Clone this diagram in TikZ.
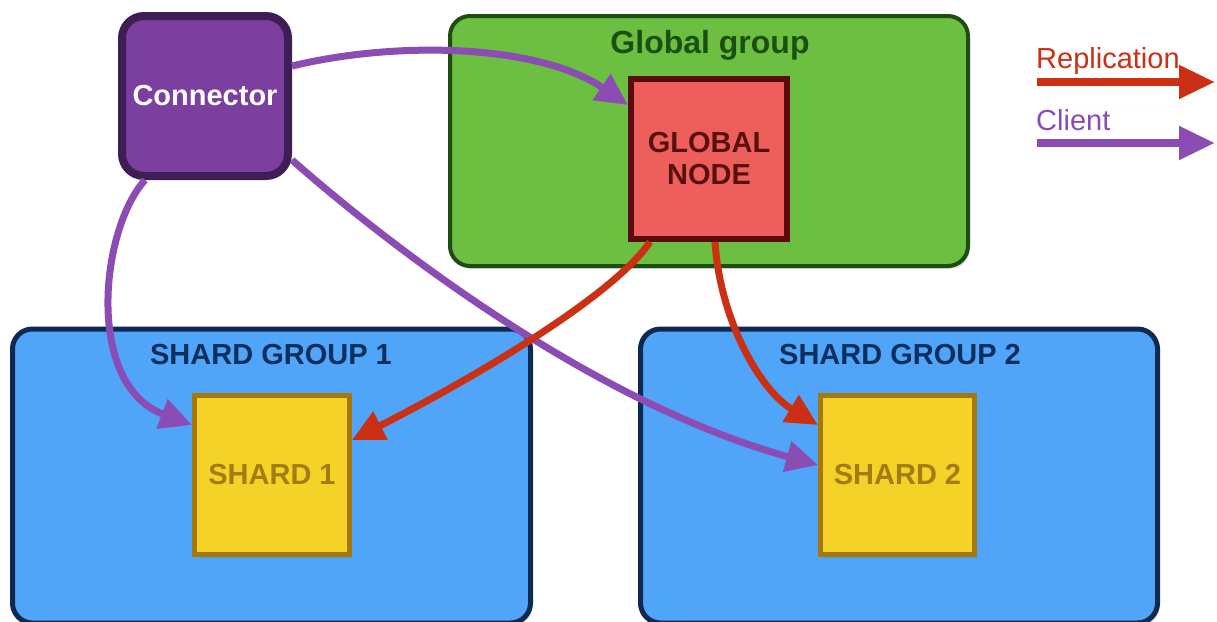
\documentclass[tikz,border=0pt]{standalone}
\usepackage{fontspec}
\setmainfont{Liberation Sans}
\usetikzlibrary{arrows.meta,shadows}
\definecolor{connfill}{HTML}{7B3F9F}
\definecolor{connline}{HTML}{3E1F55}
\definecolor{clientc}{HTML}{8B4CB3}
\definecolor{grpfill}{HTML}{6CBF40}
\definecolor{grpline}{HTML}{1E4D10}
\definecolor{grptext}{HTML}{1B5012}
\definecolor{gnfill}{HTML}{EC5F5B}
\definecolor{gnline}{HTML}{5B0B0B}
\definecolor{gntext}{HTML}{5B1010}
\definecolor{replc}{HTML}{CC3014}
\definecolor{shgfill}{HTML}{50A5F8}
\definecolor{shgline}{HTML}{0E2A52}
\definecolor{shgtext}{HTML}{0D2F5E}
\definecolor{shfill}{HTML}{F5D228}
\definecolor{shline}{HTML}{A5780F}
\definecolor{shtext}{HTML}{A27D12}
\tikzset{
  base/.style={font=\fontsize{29}{32}\selectfont\bfseries, align=center, inner sep=0pt},
  shade/.style={drop shadow={opacity=0.25, shadow xshift=2pt, shadow yshift=-3pt}},
  connbox/.style={base, shade, draw=connline, fill=connfill, text=white, line width=8pt, rounded corners=22pt},
  groupbox/.style={shade, draw=grpline, fill=grpfill, line width=4pt, rounded corners=20pt},
  gnodebox/.style={base, shade, draw=gnline, fill=gnfill, text=gntext, line width=6pt},
  shgroupbox/.style={shade, draw=shgline, fill=shgfill, line width=5pt, rounded corners=20pt},
  shardbox/.style={base, shade, draw=shline, fill=shfill, text=shtext, line width=5pt},
  title/.style={base},
  client/.style={draw=clientc, line width=7pt, -{Triangle[length=32pt,width=30pt]}},
  repl/.style={draw=replc, line width=7pt, -{Triangle[length=32pt,width=30pt]}},
  legarrow/.style={line width=8pt, -{Triangle[length=36pt,width=32pt]}},
  legtext/.style={font=\fontsize{29}{32}\selectfont, inner sep=0pt, anchor=base west}
}
\begin{document}
\begin{tikzpicture}[x=1pt,y=-1pt]
\useasboundingbox (0,0) rectangle (1217,621);
\fill[white] (0,0) rectangle (1217,621);

% global group with its node
\node[groupbox, minimum width=518pt, minimum height=250pt] (ggroup) at (709,141) {};
\node[title, text=grptext, font=\fontsize{32}{36}\selectfont\bfseries] (gtitle) at (710,45) {Global group};
\node[gnodebox, minimum width=156pt, minimum height=160pt] (gnode) at (709,159) {GLOBAL\\NODE};

% shard groups
\node[shgroupbox, minimum width=518pt, minimum height=294pt] (sg1) at (271.5,476) {};
\node[title, text=shgtext] (sg1t) at (271,355) {SHARD GROUP 1};
\node[shardbox, minimum width=155pt, minimum height=159pt] (s1) at (272,475) {SHARD 1};

\node[shgroupbox, minimum width=517pt, minimum height=294pt] (sg2) at (899,476) {};
\node[title, text=shgtext] (sg2t) at (900,355) {SHARD GROUP 2};
\node[shardbox, minimum width=154pt, minimum height=159pt] (s2) at (897.5,475) {SHARD 2};

% connector
\node[connbox, minimum width=166pt, minimum height=160pt] (conn) at (205,96) {Connector};

% client paths
\draw[client] ([yshift=30pt]conn.east) .. controls (400,40) and (540,45) .. ([yshift=54pt]gnode.west);
\draw[client] ([xshift=-60pt]conn.south) .. controls (100,230) and (85,385) .. ([yshift=50pt]s1.west);
\draw[client] ([yshift=-64pt]conn.east) .. controls (400,255) and (600,405) .. ([yshift=10pt]s2.west);

% replication paths
\draw[repl] ([xshift=-59pt]gnode.south) .. controls (610,300) and (460,385) .. ([yshift=35pt]s1.east);
\draw[repl] ([xshift=6pt]gnode.south) .. controls (720,320) and (760,390) .. ([yshift=50pt]s2.west);

% legend
\coordinate (r0) at (1037,82);
\coordinate (r1) at (1215,82);
\coordinate (c0) at (1037,143);
\coordinate (c1) at (1215,143);
\node[legtext, text=replc] (rlab) at (1036,68) {Replication};
\node[legtext, text=clientc] (clab) at (1036,130) {Client};
\draw[legarrow, draw=replc] (r0) -- (r1);
\draw[legarrow, draw=clientc] (c0) -- (c1);
\end{tikzpicture}
\end{document}
